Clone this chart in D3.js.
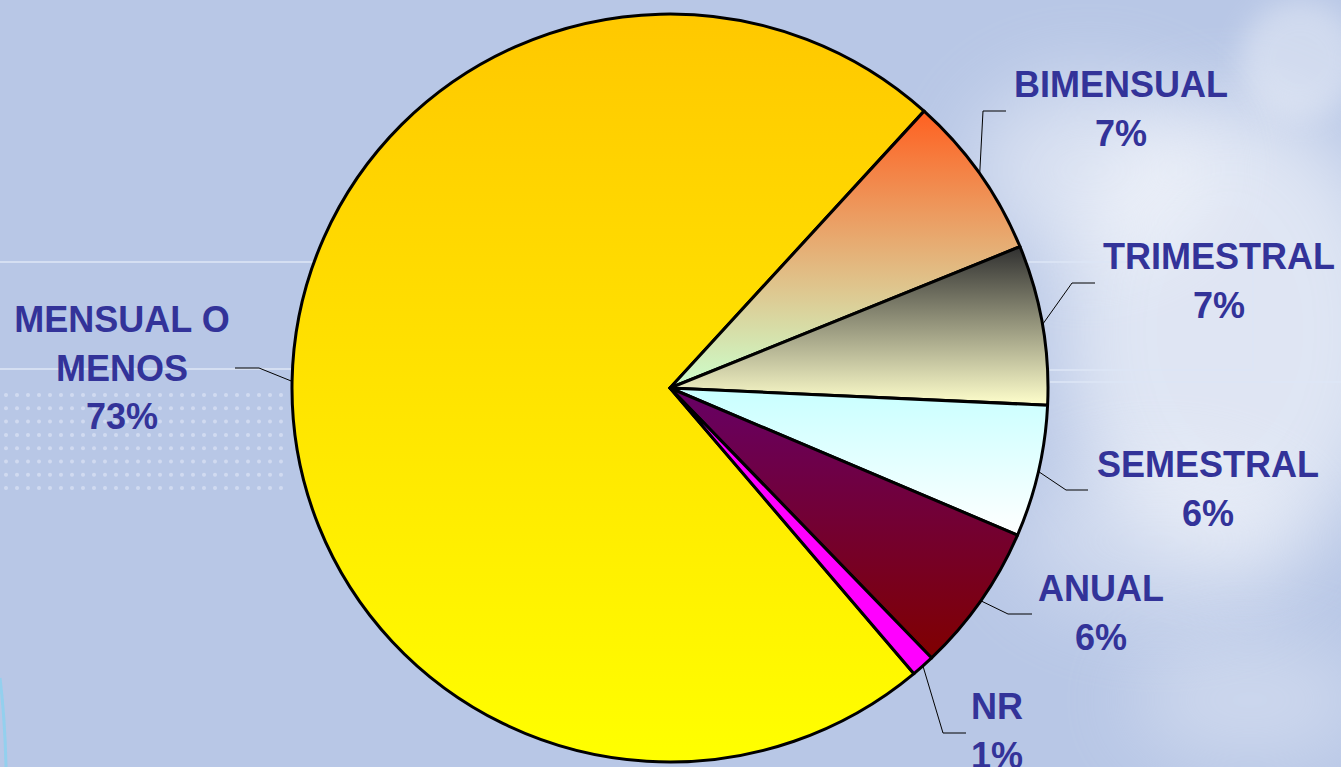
<!DOCTYPE html>
<html>
<head>
<meta charset="utf-8">
<script src="https://cdn.jsdelivr.net/npm/d3@7"></script>
<style>
  html, body { margin: 0; padding: 0; background: #b8c7e6; }
  svg { display: block; }
</style>
</head>
<body>
<svg width="1341" height="767"></svg>
<script>
// data
const categories = ['MENSUAL O MENOS', 'BIMENSUAL', 'TRIMESTRAL', 'SEMESTRAL', 'ANUAL', 'NR']
const values = [72.9, 7.1, 6.9, 5.7, 6.4, 1.0]
const labelLines = [['MENSUAL O', 'MENOS'], ['BIMENSUAL'], ['TRIMESTRAL'], ['SEMESTRAL'], ['ANUAL'], ['NR']]

// gradient stops per slice (top -> bottom)
const sliceColors = [
  ['#ffc800', '#ffff00'],
  ['#ff6020', '#ccffcc'],
  ['#303030', '#ffffcc'],
  ['#c8ffff', '#ffffff'],
  ['#660066', '#800000'],
  ['#ff00ff', '#ff00ff']
]

// label layout: text centre x, first baseline y, elbow and end of leader
const labelPos = [
  { x: 122, y: 332, ex: 259, ey: 368, tx: 235 },
  { x: 1121, y: 97, ex: 983, ey: 111, tx: 1006 },
  { x: 1219, y: 269, ex: 1072, ey: 283, tx: 1095 },
  { x: 1208, y: 477, ex: 1066, ey: 490, tx: 1088 },
  { x: 1101, y: 601, ex: 1008, ey: 614, tx: 1032 },
  { x: 997, y: 719, ex: 943, ey: 733, tx: 966 }
]

const svg = d3.select('svg')
const width = +svg.attr('width')
const height = +svg.attr('height')
const cx = 670
const cy = 388
const rx = 378
const ry = 374
const lineH = 48.5

const defs = svg.append('defs')

defs.append('filter').attr('id', 'blur').attr('x', '-50%').attr('y', '-50%')
    .attr('width', '200%').attr('height', '200%')
  .append('feGaussianBlur').attr('stdDeviation', 40)

defs.append('filter').attr('id', 'blurS').attr('x', '-50%').attr('y', '-50%')
    .attr('width', '200%').attr('height', '200%')
  .append('feGaussianBlur').attr('stdDeviation', 14)

sliceColors.forEach((c, i) => {
  const g = defs.append('linearGradient').attr('id', 'grad' + i)
    .attr('x1', 0).attr('y1', 0).attr('x2', 0).attr('y2', 1)
  g.append('stop').attr('offset', '0%').attr('stop-color', c[0])
  g.append('stop').attr('offset', '100%').attr('stop-color', c[1])
})

// background
svg.append('rect').attr('width', width).attr('height', height).attr('fill', '#b8c7e6')

const bg = svg.append('g')
bg.append('ellipse').attr('cx', 1230).attr('cy', 330).attr('rx', 170).attr('ry', 230)
  .attr('fill', '#ffffff').attr('opacity', 0.55).attr('filter', 'url(#blur)')
bg.append('ellipse').attr('cx', 1090).attr('cy', 170).attr('rx', 120).attr('ry', 90)
  .attr('fill', '#ffffff').attr('opacity', 0.45).attr('filter', 'url(#blur)')
bg.append('ellipse').attr('cx', 1160).attr('cy', 540).attr('rx', 150).attr('ry', 80)
  .attr('fill', '#ffffff').attr('opacity', 0.3).attr('filter', 'url(#blur)')
bg.append('ellipse').attr('cx', 1250).attr('cy', 700).attr('rx', 120).attr('ry', 60)
  .attr('fill', '#ffffff').attr('opacity', 0.3).attr('filter', 'url(#blur)')
bg.append('ellipse').attr('cx', 1300).attr('cy', 60).attr('rx', 60).attr('ry', 60)
  .attr('fill', '#ffffff').attr('opacity', 0.35).attr('filter', 'url(#blurS)')

// faint frame lines
const frame = bg.append('g').attr('fill', 'none').attr('stroke', '#dde6f6').attr('stroke-width', 2).attr('opacity', 0.8)
frame.append('path').attr('d', `M0,262 H1253 V370 H1040`)
frame.append('path').attr('d', `M0,369 H300`)
frame.append('path').attr('d', `M1050,382 H1341`)

// dot pattern on the left
const dotRows = d3.range(395, 490, 13.3)
const dotCols = d3.range(6, 290, 11)
bg.append('g').attr('fill', '#d4ddf2').attr('opacity', 0.9)
  .selectAll('circle')
  .data(d3.cross(dotRows, dotCols))
  .join('circle')
  .attr('cx', d => d[1])
  .attr('cy', d => d[0])
  .attr('r', 2)

// bottom-left swoosh
bg.append('path').attr('d', 'M0,678 Q5,720 6,767')
  .attr('fill', 'none').attr('stroke', '#8fd0ee').attr('stroke-width', 3).attr('opacity', 0.9)

// pie
const pie = d3.pie().sort(null).value(d => d)
  .startAngle(139.8 * Math.PI / 180)
  .endAngle(139.8 * Math.PI / 180 + 2 * Math.PI)
const arcs = pie(values)
const arc = d3.arc().innerRadius(0).outerRadius(rx)
const edge = d3.arc().innerRadius(rx).outerRadius(rx)

const pieG = svg.append('g')
  .attr('transform', `translate(${cx},${cy}) scale(1,${ry / rx})`)

pieG.selectAll('path')
  .data(arcs)
  .join('path')
  .attr('d', arc)
  .attr('fill', (d, i) => `url(#grad${i})`)
  .attr('stroke', '#000')
  .attr('stroke-width', 3)
  .attr('stroke-linejoin', 'round')
  .attr('vector-effect', 'non-scaling-stroke')

// leader lines
svg.append('g')
  .selectAll('path')
  .data(arcs)
  .join('path')
  .attr('d', (d, i) => {
    const p = edge.centroid(d)
    const sx = cx + p[0]
    const sy = cy + p[1] * ry / rx
    const l = labelPos[i]
    return `M${sx},${sy} L${l.ex},${l.ey} L${l.tx},${l.ey}`
  })
  .attr('fill', 'none')
  .attr('stroke', '#000')
  .attr('stroke-width', 1)

// labels
const labels = svg.append('g')
  .attr('font-family', '"Liberation Sans", Arial, sans-serif')
  .attr('font-weight', 'bold')
  .attr('font-size', 36)
  .attr('fill', '#333399')
  .attr('text-anchor', 'middle')

arcs.forEach((d, i) => {
  const l = labelPos[i]
  const lines = labelLines[i].concat([Math.round(values[i]) + '%'])
  lines.forEach((t, j) => {
    labels.append('text')
      .attr('x', l.x)
      .attr('y', l.y + j * lineH)
      .text(t)
  })
})
</script>
</body>
</html>
